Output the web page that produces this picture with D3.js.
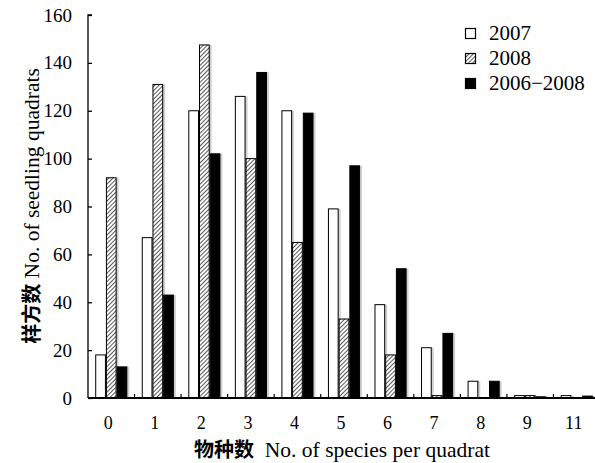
<!DOCTYPE html>
<html>
<head>
<meta charset="utf-8">
<script src="https://cdn.jsdelivr.net/npm/d3@7"></script>
<style>
  body { margin: 0; background: #fff; }
  svg { display: block; font-family: "Liberation Serif", "Noto Sans CJK SC", serif; }
</style>
</head>
<body>
<svg id="chart"></svg>
<script>
// data
var categories = ["0", "1", "2", "3", "4", "5", "6", "7", "8", "9", "11"]
var seriesNames = ["2007", "2008", "2006\u22122008"]
var v2007 = [18, 67, 120, 126, 120, 79, 39, 21, 7, 1, 1]
var v2008 = [92, 131, 147.5, 100, 65, 33, 18, 1, 0, 1, 0]
var v0608 = [13, 43, 102, 136, 119, 97, 54, 27, 7, 0.5, 0.8]
var yTicks = [0, 20, 40, 60, 80, 100, 120, 140, 160]

var width = 595
var height = 463
var margin = ({top: 15, right: -5, bottom: 65, left: 88})

var rows = categories.map((c, i) => ({cat: c, vals: [v2007[i], v2008[i], v0608[i]]}))

var svg = d3.select("#chart")
  .attr("width", width)
  .attr("height", height)

var defs = svg.append("defs")
var pat = defs.append("pattern")
  .attr("id", "hatch")
  .attr("patternUnits", "userSpaceOnUse")
  .attr("width", 3)
  .attr("height", 3)
  .attr("patternTransform", "rotate(45)")
pat.append("rect").attr("width", 3).attr("height", 3).attr("fill", "#fff")
pat.append("line")
  .attr("x1", 0).attr("y1", 0).attr("x2", 0).attr("y2", 3)
  .attr("stroke", "#000").attr("stroke-width", 1.3)

var fills = ["#fff", "url(#hatch)", "#000"]

var x0 = d3.scaleBand()
  .domain(categories)
  .range([margin.left, width - margin.right])
  .paddingInner(0.31)
  .paddingOuter(0.155)
var x1 = d3.scaleBand()
  .domain([0, 1, 2])
  .range([0, x0.bandwidth()])
var y = d3.scaleLinear()
  .domain([0, 160])
  .range([height - margin.bottom, margin.top])

var groups = svg.append("g")
  .selectAll("g")
  .data(rows)
  .join("g")
  .attr("transform", d => `translate(${x0(d.cat)},0)`)

// light grey shadow on the right side of each bar
groups.selectAll("rect.shadow")
  .data(d => d.vals.map((v, k) => ({k: k, v: v})))
  .join("rect")
  .attr("class", "shadow")
  .attr("x", d => x1(d.k) + 2)
  .attr("y", d => y(d.v))
  .attr("width", x1.bandwidth())
  .attr("height", d => y(0) - y(d.v))
  .attr("fill", "#d0d0d0")

groups.selectAll("rect.bar")
  .data(d => d.vals.map((v, k) => ({k: k, v: v})))
  .join("rect")
  .attr("class", "bar")
  .attr("x", d => x1(d.k) + 0.5)
  .attr("y", d => y(d.v))
  .attr("width", x1.bandwidth() - 1)
  .attr("height", d => y(0) - y(d.v))
  .attr("fill", d => fills[d.k])
  .attr("stroke", "#000")
  .attr("stroke-width", 1)

// y axis, ticks pointing inward
var yAxis = svg.append("g")
  .attr("transform", `translate(${margin.left},0)`)
  .call(d3.axisRight(y).tickValues(yTicks).tickSize(4).tickFormat(d3.format("d")))
yAxis.select(".domain").attr("stroke-width", 1.3).attr("d", `M4,${y(160)}H0V${y(0)}`)
yAxis.selectAll(".tick line").attr("stroke-width", 1.3)
yAxis.selectAll(".tick text")
  .attr("x", -16)
  .attr("text-anchor", "end")
  .attr("font-size", 19)
  .attr("font-family", "Liberation Serif")
  .attr("fill", "#000")

// x axis with small upward ticks between groups
var xAxis = svg.append("g")
  .attr("transform", `translate(0,${y(0)})`)
xAxis.append("line")
  .attr("x1", margin.left).attr("x2", width)
  .attr("stroke", "#000").attr("stroke-width", 2)
var step = x0.step()
xAxis.selectAll("line.tk")
  .data(categories.slice(1))
  .join("line")
  .attr("class", "tk")
  .attr("x1", d => x0(d) - x0.paddingOuter() * step)
  .attr("x2", d => x0(d) - x0.paddingOuter() * step)
  .attr("y1", 0).attr("y2", -4)
  .attr("stroke", "#000").attr("stroke-width", 1.2)
xAxis.selectAll("text")
  .data(categories)
  .join("text")
  .attr("x", d => x0(d) + x0.bandwidth() / 2 - 3)
  .attr("y", 31)
  .attr("text-anchor", "middle")
  .attr("font-size", 18)
  .text(d => d)

// axis titles
var xt = svg.append("text")
  .attr("x", 342)
  .attr("y", 457)
  .attr("text-anchor", "middle")
  .attr("font-size", 21.5)
xt.append("tspan").attr("font-family", "Noto Sans CJK SC").attr("font-weight", "bold").attr("font-size", 20).text("物种数")
xt.append("tspan").text("\u2002No. of species per quadrat")

var yt = svg.append("text")
  .attr("transform", "translate(39,206) rotate(-90)")
  .attr("text-anchor", "middle")
  .attr("font-size", 21.5)
yt.append("tspan").attr("font-family", "Noto Sans CJK SC").attr("font-weight", "bold").attr("font-size", 20).text("样方数")
yt.append("tspan").text(" No. of seedling quadrats")

// legend
var legend = svg.append("g")
  .attr("transform", "translate(465,28)")
  .selectAll("g")
  .data(seriesNames)
  .join("g")
  .attr("transform", (d, i) => `translate(0,${i * 25})`)
legend.append("rect")
  .attr("x", 0.5).attr("y", 0.5)
  .attr("width", 10).attr("height", 10)
  .attr("fill", (d, i) => fills[i])
  .attr("stroke", "#000")
  .attr("stroke-width", 1.2)
legend.append("text")
  .attr("x", 24)
  .attr("y", 12)
  .attr("font-size", 21)
  .text(d => d)
</script>
</body>
</html>
